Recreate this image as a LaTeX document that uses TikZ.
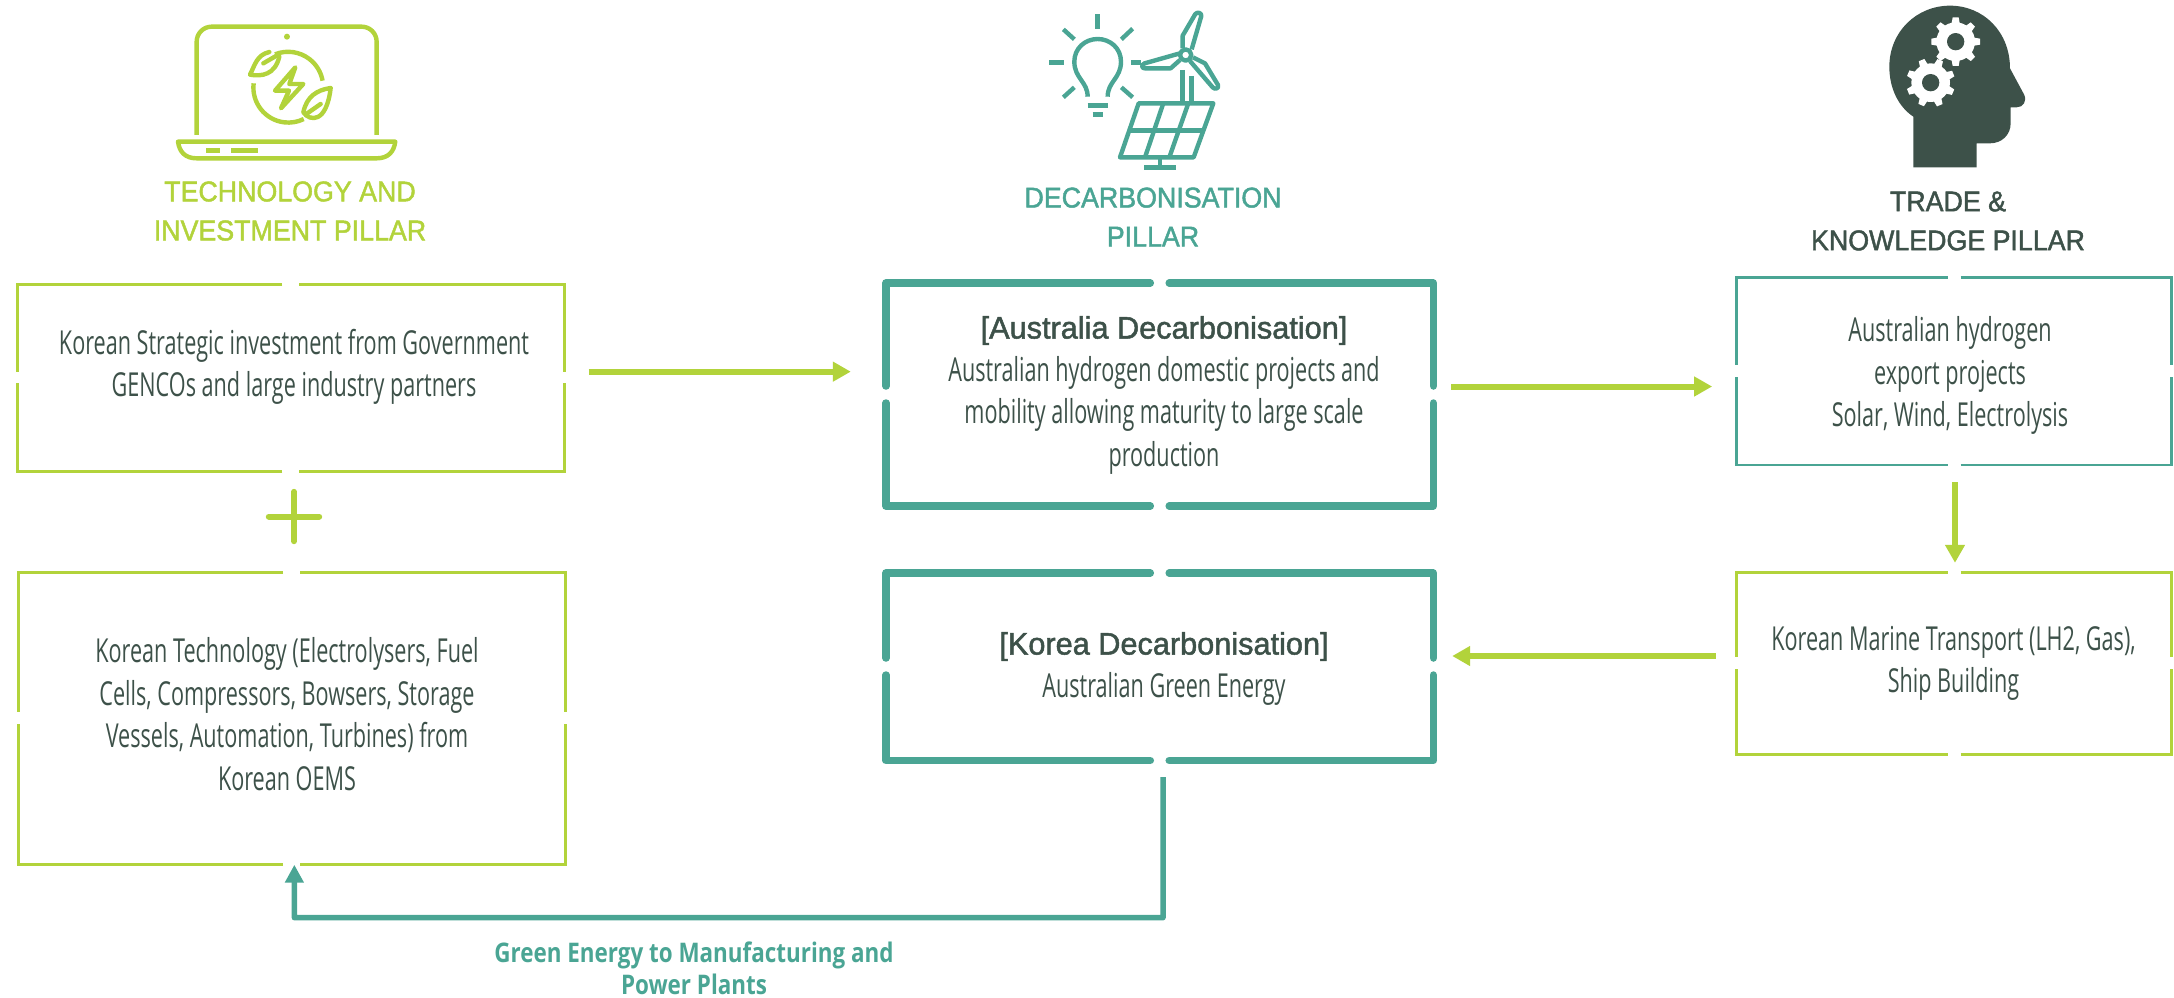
\documentclass[tikz,border=0pt]{standalone}
\usepackage{fontspec}
\usetikzlibrary{arrows.meta}
\setmainfont{Open Sans}
\newfontfamily\bodyf[FakeStretch=0.655]{Open Sans}
\newfontfamily\headf[FakeStretch=0.94,FakeBold=1.6]{Liberation Sans}
\newfontfamily\headg[FakeStretch=0.99,FakeBold=1.6]{Liberation Sans}
\newfontfamily\capf[FakeStretch=0.83]{Open Sans}
\definecolor{lime}{HTML}{B2D33B}
\definecolor{teal2}{HTML}{4AA594}
\definecolor{dark}{HTML}{3D5149}
\tikzset{
  bodytext/.style={inner sep=0pt,align=center,text=dark,font=\bodyf\fontsize{33}{42.5}\selectfont},
  headtext/.style={inner sep=0pt,align=center,font=\headf\fontsize{28.5}{39}\selectfont},
  boxhead/.style={inner sep=0pt,align=center,text=dark,font=\headg\fontsize{31}{39}\selectfont},
  thinlime/.style={draw=lime,line width=3pt,line cap=butt,line join=miter},
  thinteal/.style={draw=teal2,line width=2.6pt,line cap=butt,line join=miter},
  thickteal/.style={draw=teal2,line width=7.5pt,line cap=round,line join=round},
  boxnode/.style={inner sep=0pt,minimum width=0pt,minimum height=0pt,rectangle},
  limearrow/.style={draw=lime,line width=6pt,-{Triangle[length=18pt,width=19pt]}},
  tealarrow/.style={draw=teal2,line width=5.5pt,line join=round,-{Triangle[length=18pt,width=18pt]}},
  iconl/.style={draw=lime,line width=4.4pt,line cap=round,line join=round},
  icont/.style={draw=teal2,line width=4.4pt,line cap=butt,line join=round},
}
% name, x1, y1, x2, y2, gap x1, gap x2, gap y1, gap y2, then {style}
\newcommand{\gapbox}[9]{%
  \node[boxnode,minimum width=#4pt-#2pt,minimum height=#5pt-#3pt] (#1) at ({(#2+#4)/2},{(#3+#5)/2}) {};
  \def\gA{#2}\def\gB{#3}\def\gC{#4}\def\gD{#5}\def\gE{#6}\def\gF{#7}\def\gG{#8}\def\gH{#9}\gapboxd}
\newcommand{\gapboxd}[1]{%
  \draw[#1] (\gE,\gB) -- (\gA,\gB) -- (\gA,\gG);
  \draw[#1] (\gF,\gB) -- (\gC,\gB) -- (\gC,\gG);
  \draw[#1] (\gE,\gD) -- (\gA,\gD) -- (\gA,\gH);
  \draw[#1] (\gF,\gD) -- (\gC,\gD) -- (\gC,\gH);}
\begin{document}
\begin{tikzpicture}[x=1pt,y=-1pt]
\useasboundingbox (0,0) rectangle (2174,997);

% boxes
\gapbox{b1}{17}{284}{564.5}{471.3}{282.4}{299.3}{371.7}{383.3}{thinlime}
\gapbox{b2}{18}{572}{565.5}{864.5}{283}{300.4}{712}{724}{thinlime}
\gapbox{t1}{886}{283}{1433.3}{506}{1150.3}{1169.2}{386}{403}{thickteal}
\gapbox{t2}{886}{573}{1433.3}{760.5}{1150.3}{1169.2}{658}{675}{thickteal}
\gapbox{r1}{1736.7}{277.3}{2171.7}{465}{1947.7}{1960.7}{365}{376.7}{thinteal}
\gapbox{r2}{1736.7}{572}{2171.7}{754}{1947.7}{1960.7}{657}{669}{thinlime}

% plus
\node[boxnode,minimum width=56pt,minimum height=55pt] (plus) at (294,516.5) {};
\draw[draw=lime,line width=6pt,line cap=round] ([xshift=3pt]plus.west) -- ([xshift=-3pt]plus.east);
\draw[draw=lime,line width=6pt,line cap=round] ([yshift=-3pt]plus.north) -- ([yshift=3pt]plus.south);

% texts
\node[bodytext] (b1t) at (294,367) {Korean Strategic investment from Government\\GENCOs and large industry partners};
\node[bodytext] (b2t) at (287,714) {Korean Technology (Electrolysers, Fuel\\Cells, Compressors, Bowsers, Storage\\Vessels, Automation, Turbines) from\\Korean OEMS};
\node[boxhead] (t1h) at (1164,330.5) {[Australia Decarbonisation]};
\node[bodytext] (t1t) at (1164,415) {Australian hydrogen domestic projects and\\mobility allowing maturity to large scale\\production};
\node[boxhead] (t2h) at (1164,646.5) {[Korea Decarbonisation]};
\node[bodytext] (t2t) at (1164,689) {Australian Green Energy};
\node[bodytext] (r1t) at (1950,375.5) {Australian hydrogen\\export projects\\Solar, Wind, Electrolysis};
\node[bodytext] (r2t) at (1953.5,663.5) {Korean Marine Transport (LH2, Gas),\\Ship Building};

% headings
\node[headtext,text=lime] (h1) at (290,211) {TECHNOLOGY AND\\INVESTMENT PILLAR};
\node[headtext,text=teal2] (h2) at (1153,217) {DECARBONISATION\\PILLAR};
\node[headtext,text=dark] (h3) at (1948,221) {TRADE \&\\KNOWLEDGE PILLAR};
\node[inner sep=0pt,align=center,text=teal2,font=\capf\bfseries\fontsize{27}{32}\selectfont] (cap) at (694,968.5) {Green Energy to Manufacturing and\\Power Plants};

% connectors
\draw[limearrow] ([shift={(24,-6)}]b1.east) -- ([shift={(-35,-22.85)}]t1.west);
\draw[limearrow] ([shift={(17.7,-8)}]t1.east) -- ([shift={(-24.4,15.35)}]r1.west);
\draw[limearrow] ([shift={(0.8,17)}]r1.south) -- ([shift={(0.8,-9)}]r2.north);
\draw[limearrow] ([shift={(-20.7,-7)}]r2.west) -- ([shift={(18.7,-10.75)}]t2.east);
\coordinate (corn1) at (1163,917.7);
\coordinate (corn2) at (294.4,917.7);
\draw[tealarrow] ([shift={(3.4,16.5)}]t2.south) -- (corn1) -- (corn2) -- ([xshift=2.6pt]b2.south);

% laptop icon
\begin{scope}[shift={(140,0)},x=0.3333pt,y=-0.3333pt]
  \draw[iconl,line cap=butt,rounded corners=15pt] (170,405) -- (170,80) -- (710,80) -- (710,405);
  \fill[lime] (441,110) circle (9);
  \draw[iconl] (114,425) -- (766,425) .. controls (762,455) and (745,475) .. (710,475) -- (170,475) .. controls (135,475) and (118,455) .. (114,425) -- cycle;
  \fill[lime] (198,444) rectangle (240,458);
  \fill[lime] (273,444) rectangle (354,458);
  \draw[iconl,line cap=butt] (405,163) arc[start angle=-112,end angle=-10,radius=105];
  \draw[iconl,line cap=butt] (341,250) arc[start angle=187,end angle=64,radius=105];
  \draw[iconl] (388,156) .. controls (350,165) and (345,195) .. (330,224) .. controls (365,230) and (405,225) .. (418,170);
  \draw[iconl] (370,190) -- (408,168);
  \draw[iconl] (572,264) .. controls (530,270) and (500,290) .. (490,337) .. controls (510,365) and (560,370) .. (572,264);
  \draw[iconl] (502,340) -- (542,312);
  \draw[iconl] (466,202) -- (405,272) -- (447,272) -- (423,325) -- (490,252) -- (448,252) -- cycle;
\end{scope}

% decarbonisation icon
\begin{scope}[shift={(1010,0)},x=0.3333pt,y=-0.3333pt]
  \draw[icont] (233,290) .. controls (233,245) and (193,235) .. (193,185) .. controls (193,145) and (225,117) .. (263,117) .. controls (301,117) and (333,145) .. (333,185) .. controls (333,235) and (293,245) .. (293,290);
  \draw[icont] (233,317) -- (294,317);
  \draw[icont] (248,344) -- (279,344);
  \draw[icont] (263,43) -- (263,88);
  \draw[icont] (160,88) -- (193,118);
  \draw[icont] (368,86) -- (334,118);
  \draw[icont] (117,188) -- (162,188);
  \draw[icont] (364,188) -- (392,188);
  \draw[icont] (160,292) -- (193,262);
  \draw[icont] (368,292) -- (334,262);
  \draw[icont] (527,165) circle (17);
  \draw[icont] (518,145) -- (518,107) -- (556,42) .. controls (562,35) and (575,38) .. (574,48) -- (545,148);
  \draw[icont] (510,160) -- (404,190) .. controls (392,195) and (396,206) .. (405,205) -- (482,205) -- (510,180);
  \draw[icont] (549,172) -- (585,190) -- (624,255) .. controls (628,265) and (615,270) .. (608,262) -- (540,183);
  \draw[icont] (518,210) -- (518,305);
  \draw[icont] (544,228) -- (544,305);
  \draw[icont] (386,310) -- (610,310) -- (551,472) -- (330,472) -- cycle;
  \draw[icont] (358,391) -- (581,391);
  \draw[icont] (460,310) -- (405,472);
  \draw[icont] (535,310) -- (478,472);
  \draw[icont] (450,472) -- (450,503);
  \draw[icont] (403,503) -- (499,503);
\end{scope}

% head icon
\begin{scope}[shift={(1820,0)},x=0.3333pt,y=-0.3333pt]
  \fill[dark] (280,502) -- (280,350) .. controls (235,320) and (208,265) .. (208,200) .. controls (208,95) and (290,17) .. (390,17) .. controls (490,17) and (570,95) .. (570,205) -- (612,283) .. controls (622,303) and (610,322) .. (590,322) -- (572,322) -- (572,370) .. controls (572,405) and (545,430) .. (510,430) -- (470,430) -- (470,502) -- cycle;
  \foreach \cx/\cy/\rot in {407/125/0,332/248/22}{
    \fill[white] (\cx,\cy) circle (58);
    \foreach \a in {0,45,...,315}{
      \fill[white,shift={(\cx,\cy)},rotate=\a+\rot] (50,-13) -- (73,-9) -- (73,9) -- (50,13) -- cycle;
    }
    \fill[dark] (\cx,\cy) circle (26);
  }
\end{scope}
\end{tikzpicture}
\end{document}
